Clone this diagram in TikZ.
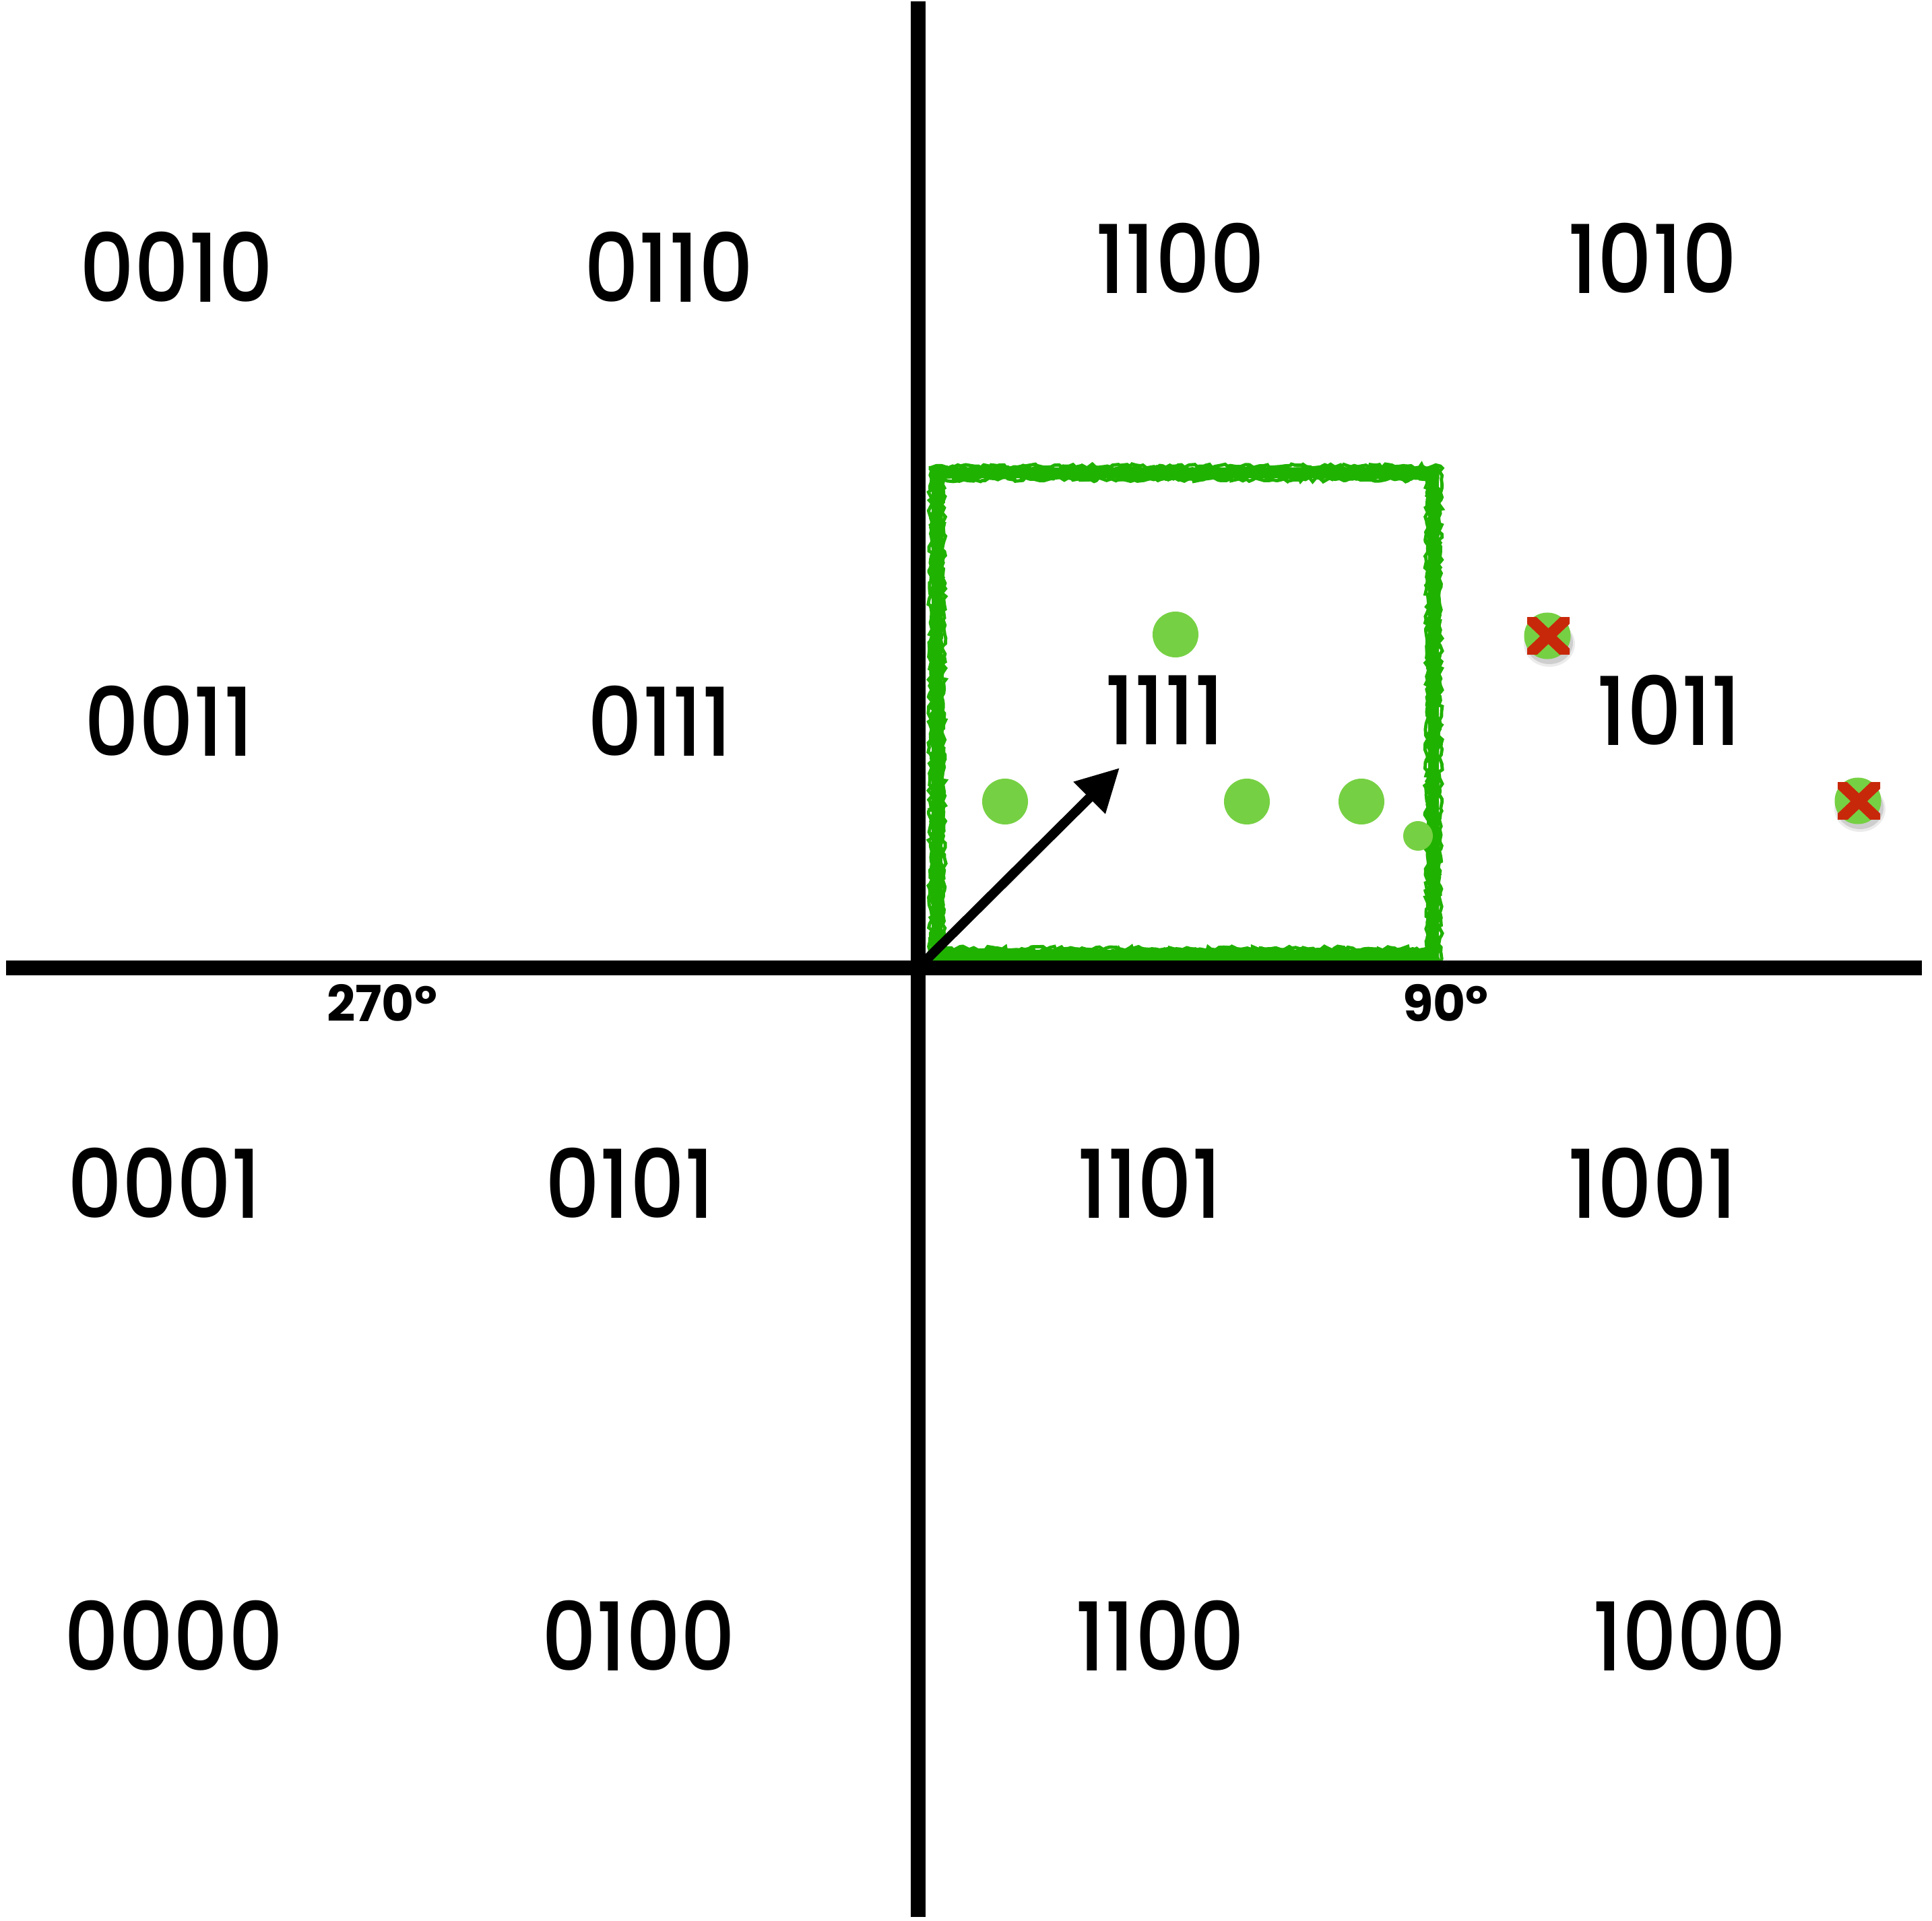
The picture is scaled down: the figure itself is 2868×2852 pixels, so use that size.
\documentclass[tikz,border=0pt]{standalone}
\usepackage{fontspec}
\setmainfont{Poppins}[UprightFont=* Medium, BoldFont=* Bold]
\newfontfamily\codefont{Poppins}[UprightFont=* Medium, FakeStretch=0.9]
\usetikzlibrary{arrows.meta,decorations.pathmorphing}
\definecolor{boxgreen}{RGB}{32,178,0}
\definecolor{dotgreen}{RGB}{118,208,67}
\definecolor{xred}{RGB}{200,40,10}
\tikzset{
  code/.style={font=\codefont\fontsize{40}{40}\selectfont, inner sep=0pt, anchor=center},
  anglelbl/.style={font=\fontsize{21}{21}\selectfont\bfseries, inner sep=0pt, anchor=center},
  axisline/.style={line width=6pt, black},
  gdot/.style={circle, fill=dotgreen, inner sep=0pt, minimum size=0.68cm},
  gdotsmall/.style={circle, fill=dotgreen, inner sep=0pt, minimum size=0.44cm},
  rough/.style={boxgreen, line width=1.4pt, decorate, decoration={random steps, segment length=1.6pt, amplitude=0.9pt}},
}
\begin{document}
\begin{tikzpicture}[x=0.01cm, y=-0.01cm]
\useasboundingbox (0,0) rectangle (2868,2852);
% axes
\coordinate (vtop) at (1363,2);
\coordinate (vbot) at (1363,2846);
\coordinate (hl) at (9,1437);
\coordinate (hr) at (2853,1437);
\coordinate (origin) at (1372,1428);
\coordinate (tip) at (1662,1140);
% green box (crayon look)
\draw[boxgreen, line width=4.6pt] (1391,702) rectangle (2128,1418);
\pgfmathsetseed{11}
\draw[rough] (1384,695) rectangle (2135,1425);
\pgfmathsetseed{23}
\draw[rough] (1398,709) rectangle (2121,1411);
\pgfmathsetseed{37}
\draw[rough] (1381,692) rectangle (2138,1428);
\pgfmathsetseed{51}
\draw[rough] (1401,712) rectangle (2118,1408);
\draw[axisline] (vtop) -- (vbot);
\draw[axisline] (hl) -- (hr);
% arrow
\draw[line width=4pt, -{Triangle[length=18pt, width=18pt]}] (origin) -- (tip);
% dots
\node[gdot] (d1) at (1745,942) {};
\node[gdot] (d2) at (1492,1190) {};
\node[gdot] (d3) at (1851,1190) {};
\node[gdot] (d4) at (2021,1190) {};
\node[gdotsmall] (d5) at (2105,1241) {};
% rejected markers
\foreach \cx/\cy/\nm in {2297/944/m1, 2758/1189/m2}{
  \fill[black, opacity=0.12] (\cx+3,\cy+10) ellipse (35 and 32);
  \fill[black, opacity=0.08] (\cx+3,\cy+12) ellipse (38 and 34);
  \node[gdot, minimum size=0.69cm] (\nm) at (\cx,\cy) {};
  \begin{scope}
    \clip (\cx-30,\cy-27) rectangle (\cx+33,\cy+28);
    \draw[xred, line width=4.8pt] (\cx-38,\cy-37) -- (\cx+41,\cy+38) (\cx-38,\cy+38) -- (\cx+41,\cy-37);
  \end{scope}
}
% codes
\node[code] (c0010) at (262,396) {0010};
\node[code] (c0110) at (993,396) {0110};
\node[code] (c1100a) at (1752,383) {1100};
\node[code] (c1010) at (2453,383) {1010};
\node[code] (c0011) at (251,1070) {0011};
\node[code] (c0111) at (980,1070) {0111};
\node[code] (c1111) at (1729,1054) {1111};
\node[code] (c1011) at (2478,1054) {1011};
\node[code] (c0001) at (244,1756) {0001};
\node[code] (c0101) at (935,1756) {0101};
\node[code] (c1101) at (1707,1756) {1101};
\node[code] (c1001) at (2453,1756) {1001};
\node[code] (c0000) at (258,2428) {0000};
\node[code] (c0100) at (948,2428) {0100};
\node[code] (c1100b) at (1722,2428) {1100};
\node[code] (c1000) at (2508,2428) {1000};
% angle labels
\node[anglelbl] (a270) at (567,1489) {270º};
\node[anglelbl] (a90) at (2146,1489) {90º};
\end{tikzpicture}
\end{document}
